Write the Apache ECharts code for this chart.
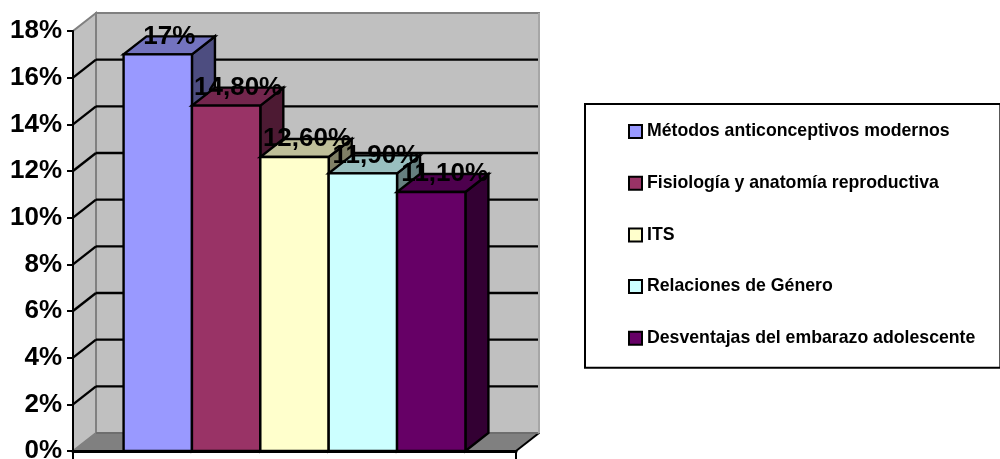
<!DOCTYPE html>
<html><head><meta charset="utf-8">
<style>html,body{margin:0;padding:0;background:#fff}#c{width:1000px;height:459px}</style>
<script src="https://cdn.jsdelivr.net/npm/echarts@6/dist/echarts.min.js"></script>
</head><body><div id="c"></div>
<script>
const categories = [''];
const seriesNames = ['Métodos anticonceptivos modernos','Fisiología y anatomía reproductiva','ITS','Relaciones de Género','Desventajas del embarazo adolescente'];
const seriesValues = [17, 14.8, 12.6, 11.9, 11.1];
const valueLabels = ['17%','14,80%','12,60%','11,90%','11,10%'];
const frontColors = ['#9999ff','#993366','#ffffcc','#ccffff','#660066'];
const topColors = ['#7373bf','#73264d','#bfbf99','#99bfbf','#4d004d'];
const sideColors = ['#4d4d80','#4d1a33','#808066','#668080','#330033'];
const tickValues = [0,2,4,6,8,10,12,14,16,18];

const DX = 23, DY = -18, FONT = '"Liberation Sans", Arial, sans-serif';

function poly(points, fill, stroke, lw){
  return {type:'polygon', shape:{points}, style:{fill, stroke, lineWidth:lw}};
}
function line(x1,y1,x2,y2,stroke,lw){
  return {type:'line', shape:{x1,y1,x2,y2}, style:{stroke, lineWidth:lw, fill:null}};
}
function wallsItem(params, api){
  const base = api.coord([0,0]), band = api.size([1,0])[0];
  const top = api.coord([0,18]);
  const L = base[0]-band/2, R = base[0]+band/2, B = base[1], T = top[1];
  const kids = [
    poly([[L+DX,T+DY],[R+DX,T+DY],[R+DX,B+DY],[L+DX,B+DY]],'#c0c0c0','#808080',2),
    poly([[L,B],[L,T],[L+DX,T+DY],[L+DX,B+DY]],'#c0c0c0','#808080',2),
    poly([[L,B],[R,B],[R+DX,B+DY],[L+DX,B+DY]],'#808080','#808080',1),
    line(R,B,R+DX,B+DY,'#000',2)
  ];
  tickValues.forEach(t=>{
    if(t===0||t===18) return;
    const y = api.coord([0,t])[1];
    kids.push(line(L,y,L+DX,y+DY,'#000',2.4));
    kids.push(line(L+DX,y+DY,R+DX-1,y+DY,'#000',2.4));
  });
  kids.push(line(L+DX,B+DY,R+DX,B+DY,'#6e6e6e',2));
  kids.push(line(R+DX,T+DY,R+DX,B+DY,'#a6a6a6',2));
  return {type:'group', children:kids};
}
function barItem(i){
  return function(params, api){
    const c = api.coord([0,api.value(1)]), base = api.coord([0,0]);
    const w = api.size([1,0])[0]/6.48;
    const x0 = c[0]+(i-2.5)*w, x1 = x0+w, y = c[1], b = base[1];
    return {type:'group', children:[
      poly([[x1,b],[x1,y],[x1+DX,y+DY],[x1+DX,b+DY]],sideColors[i],'#000',2.4),
      poly([[x0,y],[x1,y],[x1+DX,y+DY],[x0+DX,y+DY]],topColors[i],'#000',2.4),
      poly([[x0,y],[x1,y],[x1,b],[x0,b]],frontColors[i],'#000',2.4),
      {type:'text', z2:100, style:{x:x0+w/2+DX/2+i*0.5, y:y+DY, text:valueLabels[i], fill:'#000',
        font:'bold 26px '+FONT, align:'center', verticalAlign:'middle'}}
    ]};
  };
}
const chart = echarts.init(document.getElementById('c'));
chart.setOption({
  animation:false,
  grid:{left:73, right:484, top:31, bottom:8, outerBoundsMode:'none'},
  xAxis:{type:'category', data:categories, z:10,
    axisLine:{lineStyle:{color:'#000',width:3}},
    axisTick:{show:true,length:8,lineStyle:{color:'#000',width:2}},
    axisLabel:{show:false}, splitLine:{show:false}},
  yAxis:{type:'value', min:0, max:18, interval:2, z:10,
    axisLine:{show:true,lineStyle:{color:'#000',width:2}},
    axisTick:{show:true,length:6,lineStyle:{color:'#000',width:2}},
    axisLabel:{color:'#000',fontFamily:'Liberation Sans',fontWeight:'bold',fontSize:26,margin:11,
      formatter:'{value}%', hideOverlap:false, showMinLabel:true, showMaxLabel:true},
    splitLine:{show:false}},
  legend:{orient:'vertical', left:585, top:104, data:seriesNames, selectedMode:false,
    backgroundColor:'#fff', borderColor:'#000', borderWidth:2,
    padding:[18.5,25,20.5,43], itemWidth:13, itemHeight:13, itemGap:33.7, icon:'rect',
    itemStyle:{borderColor:'#000',borderWidth:2},
    textStyle:{color:'#000',fontFamily:'Liberation Sans',fontWeight:'bold',fontSize:17.7}},
  series:[
    {type:'custom', name:'paredes', silent:true, renderItem:wallsItem, data:[[0,0]], encode:{x:0,y:1}},
    ...seriesNames.map((n,i)=>({type:'custom', name:n, silent:true, renderItem:barItem(i),
      itemStyle:{color:frontColors[i]}, data:[[0,seriesValues[i]]], encode:{x:0,y:1}}))
  ]
});
</script></body></html>
